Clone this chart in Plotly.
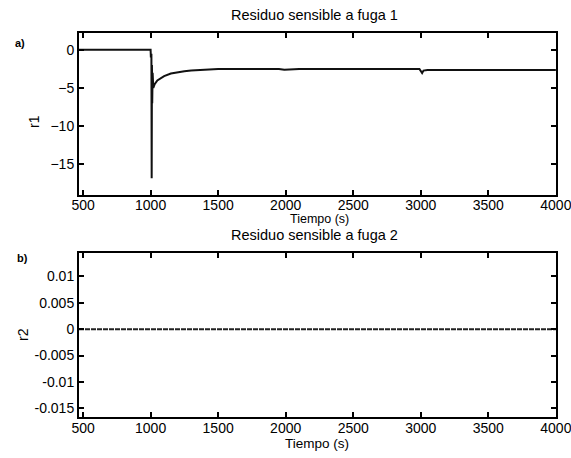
import plotly.graph_objects as go

# Residual r1 (sensitive to leak 1)
t_r1 = [470, 1000, 1002, 1004, 1006, 1008, 1010, 1012, 1015, 1020, 1030, 1050,
        1075, 1100, 1150, 1200, 1250, 1300, 1400, 1500, 1600, 1800, 1950, 1990,
        2030, 2100, 2500, 2900, 2990, 3010, 3020, 3050, 3500, 4000]
r1 = [0, 0, -1, -8, -0.5, -16.8, -2, -7, -3, -5, -4.5, -4.0,
      -3.7, -3.45, -3.1, -2.9, -2.8, -2.7, -2.6, -2.52, -2.5, -2.5, -2.5, -2.62,
      -2.6, -2.5, -2.5, -2.5, -2.5, -3.05, -2.72, -2.65, -2.65, -2.65]

# Residual r2 (sensitive to leak 2)
t_r2 = [470, 1000, 1500, 2000, 2500, 3000, 3500, 4000]
r2 = [0, 0, 0, 0, 0, 0, 0, 0]

x_ticks = [500, 1000, 1500, 2000, 2500, 3000, 3500, 4000]
y1_ticks = [0, -5, -10, -15]
y2_ticks = [0.01, 0.005, 0, -0.005, -0.01, -0.015]
y2_labels = ["0.01", "0.005", "0", "-0.005", "-0.01", "-0.015"]

FONT = "Liberation Sans, Arial, sans-serif"

fig = go.Figure()
fig.add_trace(go.Scatter(x=t_r1, y=r1, mode="lines",
                         line=dict(color="#111111", width=2),
                         xaxis="x", yaxis="y", showlegend=False))
fig.add_trace(go.Scatter(x=t_r2, y=r2, mode="lines",
                         line=dict(color="#222222", width=2, dash="5px,1px"),
                         xaxis="x2", yaxis="y2", showlegend=False))

axis_common = dict(showline=True, linecolor="black", linewidth=2, mirror="ticks",
                   ticks="inside", ticklen=5, tickwidth=1.5, tickcolor="black",
                   showgrid=False, zeroline=False, ticklabeloverflow="allow",
                   automargin=False,
                   tickfont=dict(family=FONT, size=14, color="black"))

xd = [79 / 571, 556 / 571]
fig.update_layout(
    width=571, height=458,
    margin=dict(l=0, r=0, t=0, b=0, autoexpand=False),
    paper_bgcolor="white", plot_bgcolor="white",
    xaxis=dict(domain=xd, range=[470, 4001], tickvals=x_ticks,
               anchor="y", ticklabelstandoff=-4, **axis_common),
    yaxis=dict(domain=[1 - 195 / 458, 1 - 33 / 458], range=[-19, 2.2],
               tickvals=y1_ticks, anchor="x", **axis_common),
    xaxis2=dict(domain=xd, range=[470, 4001], tickvals=x_ticks,
                anchor="y2", ticklabelstandoff=-3, **axis_common),
    yaxis2=dict(domain=[1 - 416.7 / 458, 1 - 253.3 / 458], range=[-0.0166, 0.0144],
                tickvals=y2_ticks, ticktext=y2_labels, anchor="x2", **axis_common),
)

def txt(text, x, y, size=13, angle=0):
    fig.add_annotation(text=text, x=x / 571, y=1 - y / 458, xref="paper", yref="paper",
                       showarrow=False, textangle=angle, xanchor="center", yanchor="middle",
                       font=dict(family="Liberation Sans, Arial, sans-serif", size=size, color="black"))

txt("Residuo sensible a fuga 1", 314, 15, size=14.5)
txt("Tiempo (s)", 319, 219, size=12.5)
txt("Residuo sensible a fuga 2", 314, 235, size=14.5)
txt("Tiempo (s)", 317, 443, size=13.5)
txt("r1", 34, 122, size=14, angle=-90)
txt("r2", 23, 335, size=14, angle=-90)
txt("<b>a)</b>", 20, 43, size=11)
txt("<b>b)</b>", 22, 258, size=11)

fig.write_html("out.html")
